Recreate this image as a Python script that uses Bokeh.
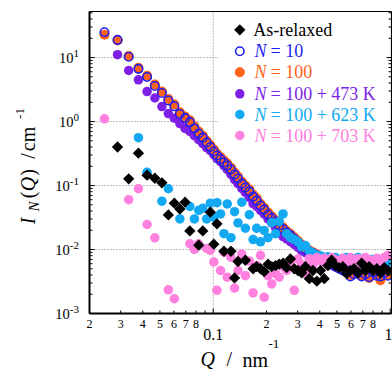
import math
import numpy as np
from bokeh.plotting import figure
from bokeh.models import (Range1d, LinearScale, Label, BoxAnnotation, ColumnDataSource)
from bokeh.embed import file_html
from bokeh.resources import INLINE

nan = float("nan")

# ---------------- data ----------------
q = [0.0243, 0.0288, 0.0333, 0.0378, 0.0423, 0.0468, 0.0513, 0.0558, 0.0603, 0.0648,
     0.0693, 0.0738, 0.0783, 0.0828, 0.0873, 0.0918, 0.0963, 0.1008,
     0.105, 0.110, 0.115, 0.120, 0.126, 0.132, 0.138, 0.145, 0.152, 0.160,
     0.168, 0.176, 0.185, 0.194, 0.204, 0.214, 0.225, 0.236, 0.248, 0.260,
     0.273, 0.287, 0.301, 0.316, 0.332, 0.349, 0.366, 0.385, 0.404, 0.424,
     0.445, 0.467, 0.490, 0.515, 0.540, 0.567, 0.596, 0.625, 0.657, 0.690,
     0.724, 0.760, 0.800, 0.840, 0.880, 0.925, 0.970]

i_n10 = [24.8, 18.9, 10.3, 6.65, 4.96, 3.59, 2.79, 2.13, 1.73, 1.31,
         1.13, 0.98, 0.78, 0.65, 0.56, 0.47, 0.40, 0.34,
         0.294, 0.259, 0.229, 0.205, 0.178, 0.149, 0.129, 0.107, 0.093, 0.081,
         0.067, 0.058, 0.0487, 0.042, 0.0352, 0.031, 0.0274, 0.0237, 0.0209, 0.0184,
         0.0166, 0.0146, 0.0129, 0.0113, 0.0100, 0.0093, 0.0088, 0.0081, 0.0074, 0.0069,
         0.0063, 0.0058, 0.0054, 0.0050, 0.0047, 0.0044, 0.0038, 0.0041, 0.0043, 0.0038,
         0.0041, 0.0037, 0.0044, 0.0039, 0.0038, 0.0043, 0.0039]

i_n100 = [22.8, 18.5, 10.6, 6.9, 5.2, 3.8, 2.95, 2.25, 1.85, 1.4,
          1.2, 1.05, 0.84, 0.70, 0.60, 0.50, 0.43, 0.365,
          0.315, 0.278, 0.245, 0.22, 0.19, 0.16, 0.138, 0.115, 0.10, 0.087,
          0.072, 0.063, 0.052, 0.045, 0.038, 0.033, 0.029, 0.0252, 0.0222, 0.0195,
          0.0176, 0.0155, 0.0137, 0.012, 0.0106, 0.0097, 0.0091, 0.0084, 0.0077, 0.0071,
          0.0065, 0.0060, 0.0055, 0.0051, 0.0048, 0.0045, 0.0040, 0.0042, 0.0044, 0.0039,
          0.0042, 0.0036, 0.0045, 0.0040, 0.0033, 0.0043, 0.0040]

i_473k = [nan, 11.1, 6.27, 4.49, 2.94, 2.33, 1.71, 1.33, 1.13, 0.93,
          0.78, 0.70, 0.60, 0.52, 0.453, 0.39, 0.35, 0.305,
          0.264, 0.237, 0.205, 0.178, 0.149, 0.124, 0.107, 0.090, 0.078, 0.065,
          0.052, 0.047, 0.041, 0.036, 0.030, 0.026, 0.022, 0.019, 0.0159, 0.0147,
          0.0133, 0.0120, 0.0108, 0.0096, 0.0089, 0.0083, 0.0077, 0.0072, 0.0069, 0.0065,
          0.0063, 0.0058, 0.0054, 0.0052, 0.0050, 0.0048, 0.0047, 0.0046, 0.0048, 0.0045,
          0.0047, 0.0044, 0.0046, 0.0045, 0.0047, 0.0044, 0.0046]

i_623k = [nan, nan, nan, 0.56, 0.161, nan, 0.057, 0.089, nan, 0.030,
          nan, 0.047, 0.030, 0.041, 0.044, 0.030, 0.053, 0.032,
          0.054, 0.036, 0.0177, 0.0515, 0.0153, 0.039, 0.026, 0.055, 0.0215, 0.035,
          0.0143, 0.0215, 0.0132, 0.0199, 0.0153, 0.0262, 0.0177, 0.0275, 0.036, 0.0177,
          0.0153, 0.0143, 0.0132, 0.0110, 0.0115, 0.0095, 0.0088, 0.0082, 0.0080, 0.0075,
          0.0077, 0.0072, 0.0075, 0.0070, 0.0072, 0.0075, 0.0067, 0.0072, 0.0075, 0.0070,
          0.0072, 0.0067, 0.0070, 0.0072, 0.0067, 0.0070, 0.0063]

i_703k = [1.1, nan, 0.060, 0.089, 0.0246, 0.0152, nan, 0.00234, 0.0017, nan,
          nan, 0.0123, 0.0100, 0.0123, nan, 0.0104, 0.0097, 0.0064,
          0.0023, 0.0047, 0.0091, 0.0037, 0.0076, 0.0025, 0.0047, 0.0085, 0.0039, 0.0066,
          0.0021, 0.0056, 0.0081, 0.0018, 0.0039, 0.0029, 0.0042, 0.0037, 0.0054, 0.0047,
          0.0066, 0.0023, 0.0071, 0.0058, 0.0042, 0.0072, 0.0058, 0.0075, 0.0066, 0.0073,
          0.0058, 0.0075, 0.0069, 0.0058, 0.0073, 0.0066, 0.0075, 0.0058, 0.0072, 0.0062,
          0.0075, 0.0069, 0.0058, 0.0073, 0.0066, 0.0075, 0.0081]

i_relaxed = [nan, 0.40, 0.127, 0.32, 0.145, 0.13, 0.11, 0.0347, 0.053, 0.043,
             0.055, 0.0195, nan, 0.0117, 0.0195, nan, 0.0383, 0.0121,
             0.0252, nan, 0.0094, nan, 0.0094, 0.0036, 0.0065, nan, 0.0068, nan,
             0.0050, 0.0054, 0.0050, 0.0045, 0.0059, 0.0054, 0.0056, 0.0059, 0.0061, 0.0052,
             0.0071, 0.0050, 0.0047, 0.0043, 0.0054, 0.0035, 0.0047, 0.0032, 0.0047, 0.0035,
             0.0056, 0.0068, 0.0056, 0.0052, 0.0054, 0.0042, 0.0047, 0.0050, 0.0043, 0.0061,
             0.0047, 0.0054, 0.0047, 0.0050, 0.0043, 0.0052, 0.0047]

for arr in (i_n10, i_n100, i_473k, i_623k, i_703k, i_relaxed):
    assert len(arr) == len(q), len(arr)

legend_labels = ["As-relaxed", "= 10", "= 100", "= 100 + 473 K", "= 100 + 623 K", "= 100 + 703 K"]

x_major = [0.1, 1.0]
x_minor = [0.02, 0.03, 0.04, 0.05, 0.06, 0.07, 0.08, 0.09,
           0.2, 0.3, 0.4, 0.5, 0.6, 0.7, 0.8, 0.9]
x_minor_label_pos = [0.02, 0.03, 0.04, 0.05, 0.06, 0.07, 0.08,
                     0.2, 0.3, 0.4, 0.5, 0.6, 0.7, 0.8]
x_minor_labels = ["2", "3", "4", "5", "6", "7", "8",
                  "2", "3", "4", "5", "6", "7", "8"]
x_major_labels = ["0.1", "1"]
y_major = [1e-3, 1e-2, 1e-1, 1.0, 10.0]
y_exps = ["-3", "-2", "-1", "0", "1"]
y_minor = [m * 10.0 ** e for e in range(-3, 2) for m in range(2, 10) if m * 10.0 ** e < 52]
y_grid = [1e-2, 1e-1, 1.0, 10.0]
x_grid = [0.1]

# ---------------- layout ----------------
W, H = 392, 371
FL, FR, FT, FB = 89, 391, 11, 313          # plot box edges in canvas pixels
X0, X1 = 0.02, 1.017                        # plot box data extents
Y0, Y1 = 1e-3, 52.4
dx = math.log10(X1 / X0) / (FR - FL)        # decades per pixel
dy = math.log10(Y1 / Y0) / (FB - FT)
xr = Range1d(X0 * 10 ** (-FL * dx), X1 * 10 ** ((W - FR) * dx))
yr = Range1d(Y0 * 10 ** (-(H - FB) * dy), Y1 * 10 ** (FT * dy))

SERIF = "Liberation Serif"
ORANGE = "#FF6319"
BLUE = "#1E1EF0"
PURPLE = "#7E1FE6"
CYAN = "#12A9F2"
PINK = "#FF80DF"

def sx(x):   # canvas x -> screen units
    return x

def sy(y):   # canvas y (from top) -> screen units (from bottom)
    return H - y

p = figure(width=W, height=H, x_axis_type="log", y_axis_type="log",
           x_range=xr, y_range=yr, output_backend="svg", toolbar_location=None,
           x_axis_location=None, y_axis_location=None, min_border=0)
p.min_border_left = p.min_border_right = p.min_border_top = p.min_border_bottom = 0
p.background_fill_color = "white"
p.border_fill_color = "white"
p.outline_line_color = None
p.xgrid.visible = False
p.ygrid.visible = False

# grid (dotted)
p.segment(x0=[X0] * len(y_grid), y0=y_grid, x1=[X1] * len(y_grid), y1=y_grid,
          line_color="#7a7a7a", line_dash="1 2", line_width=1)
p.segment(x0=x_grid, y0=[Y0] * len(x_grid), x1=x_grid, y1=[Y1] * len(x_grid),
          line_color="#7a7a7a", line_dash="1 2", line_width=1)

# data
src = ColumnDataSource(dict(q=np.array(q, float), n10=np.array(i_n10, float),
                            n100=np.array(i_n100, float), k473=np.array(i_473k, float),
                            k623=np.array(i_623k, float), k703=np.array(i_703k, float),
                            rel=np.array(i_relaxed, float)))

p.scatter("q", "k473", source=src, size=9.5, fill_color=PURPLE, line_color=None)
p.scatter("q", "n100", source=src, size=10, fill_color=ORANGE, line_color=None)
p.scatter("q", "n10", source=src, size=8.5, fill_color=None, line_color=BLUE, line_width=1.6)
p.scatter("q", "k623", source=src, size=9.5, fill_color=CYAN, line_color=None)
p.scatter("q", "k703", source=src, size=9.5, fill_color=PINK, line_color=None)
p.scatter("q", "rel", source=src, marker="square", angle=math.pi / 4, size=8,
          fill_color="black", line_color=None)

# legend background (hides grid behind the legend)
p.add_layout(BoxAnnotation(left=sx(218), right=sx(388), bottom=sy(146), top=sy(12),
                           left_units="screen", right_units="screen",
                           bottom_units="screen", top_units="screen",
                           fill_color="white", fill_alpha=1.0, line_alpha=0.0))

# frame and ticks (drawn on top)
fx5, fx3 = 10 ** (5 * dx), 10 ** (3 * dx)
fy5, fy3 = 10 ** (5 * dy), 10 ** (3 * dy)
tick_style = dict(line_color="black", line_width=1)
rs = []
ny, nyn = len(y_major), len(y_minor)
rs.append(p.segment(x0=[X0] * ny, y0=y_major, x1=[X0 * fx5] * ny, y1=y_major, **tick_style))
rs.append(p.segment(x0=[X0] * nyn, y0=y_minor, x1=[X0 * fx3] * nyn, y1=y_minor, **tick_style))
rs.append(p.segment(x0=[X1] * ny, y0=y_major, x1=[X1 / fx5] * ny, y1=y_major, **tick_style))
rs.append(p.segment(x0=[X1] * nyn, y0=y_minor, x1=[X1 / fx3] * nyn, y1=y_minor, **tick_style))
nx, nxn = len(x_major), len(x_minor)
rs.append(p.segment(x0=x_major, y0=[Y0] * nx, x1=x_major, y1=[Y0 * fy5] * nx, **tick_style))
rs.append(p.segment(x0=x_minor, y0=[Y0] * nxn, x1=x_minor, y1=[Y0 * fy3] * nxn, **tick_style))
rs.append(p.segment(x0=[X0, X0], y0=[Y0, Y0], x1=[X0, X1], y1=[Y1, Y0],
                    line_color="black", line_width=2))
rs.append(p.segment(x0=[X0, X1], y0=[Y1, Y0], x1=[X1, X1], y1=[Y1, Y1],
                    line_color="black", line_width=1.2))
for r in rs:
    r.level = "overlay"

# ---------------- legend (manual) ----------------
p.extra_x_ranges = {"px": Range1d(0, W)}
p.extra_x_scales = {"px": LinearScale()}
p.extra_y_ranges = {"px": Range1d(0, H)}
p.extra_y_scales = {"px": LinearScale()}

row_mid = [29.3, 50.7, 71.7, 93.3, 114.0, 135.0]
mk_x = 239.3
leg_styles = [
    dict(marker="square", angle=math.pi / 4, size=8, fill_color="black", line_color=None),
    dict(marker="circle", size=8.5, fill_color=None, line_color=BLUE, line_width=1.6),
    dict(marker="circle", size=10, fill_color=ORANGE, line_color=None),
    dict(marker="circle", size=9.5, fill_color=PURPLE, line_color=None),
    dict(marker="circle", size=9.5, fill_color=CYAN, line_color=None),
    dict(marker="circle", size=9.5, fill_color=PINK, line_color=None),
]
leg_colors = ["black", BLUE, ORANGE, PURPLE, CYAN, PINK]

def lab(text, x, y, size, style="normal", align="left", color="black", angle=0.0,
        xu="screen", yu="screen", y_off=0):
    # every label is anchored at the vertical middle of its glyphs
    p.add_layout(Label(x=x, y=y, x_units=xu, y_units=yu, text=text, text_font=SERIF,
                       text_font_size=f"{size}px", text_font_style=style,
                       text_align=align, text_baseline="middle",
                       text_color=color, angle=angle, y_offset=y_off))

for k in range(6):
    r = p.scatter(x=[sx(mk_x)], y=[sy(row_mid[k])], x_range_name="px", y_range_name="px",
                  **leg_styles[k])
    r.level = "overlay"
    if k == 0:
        lab(legend_labels[0], sx(252.7), sy(row_mid[k]), 18, color="black")
    else:
        lab("N", sx(254), sy(row_mid[k]), 18, style="italic", color=leg_colors[k])
        lab(legend_labels[k], sx(270), sy(row_mid[k]), 18, color=leg_colors[k])

# ---------------- tick labels ----------------
for v, e in zip(y_major, y_exps):
    sup_w = sum(0.333 if ch == "-" else 0.5 for ch in e) * 11
    right = 78.5 - sup_w
    lab("10", sx(right), v, 14.5, align="right", yu="data", y_off=0)
    lab(e, sx(right), v, 11, align="left", yu="data", y_off=4)

for v, t in zip(x_minor_label_pos, x_minor_labels):
    lab(t, v, sy(323), 12, align="center", xu="data")
lab(x_major_labels[0], x_major[0], sy(333.5), 16, align="center", xu="data")
lab(x_major_labels[1], sx(392), sy(333.5), 16, align="right")

# ---------------- axis titles ----------------
# y title: rotated pieces, each anchored at its own centre
A = math.pi / 2
CX = 27.5
ytitle = (("I", CX, 220.5, 20, "italic"),
          ("N", 33.0, 206.0, 15, "italic"),
          ("(", CX, 194.5, 20, "normal"),
          ("Q", CX, 183.5, 20, "italic"),
          (")", CX, 172.0, 20, "normal"),
          ("/", CX, 155.5, 20, "normal"),
          ("cm", CX, 138.5, 20, "normal"),
          ("-1", 19.5, 113.0, 13, "normal"))
for text, cxp, cyp, size, style in ytitle:
    lab(text, sx(cxp), sy(cyp), size, style=style, align="center", angle=A)

XM = 358
lab("Q", sx(200), sy(XM), 20, style="italic")
lab("/", sx(226), sy(XM), 20)
lab("nm", sx(242), sy(XM + 1), 20)
lab("-1", sx(268), sy(343), 13)

open("out.html", "w").write(file_html(p, INLINE))
